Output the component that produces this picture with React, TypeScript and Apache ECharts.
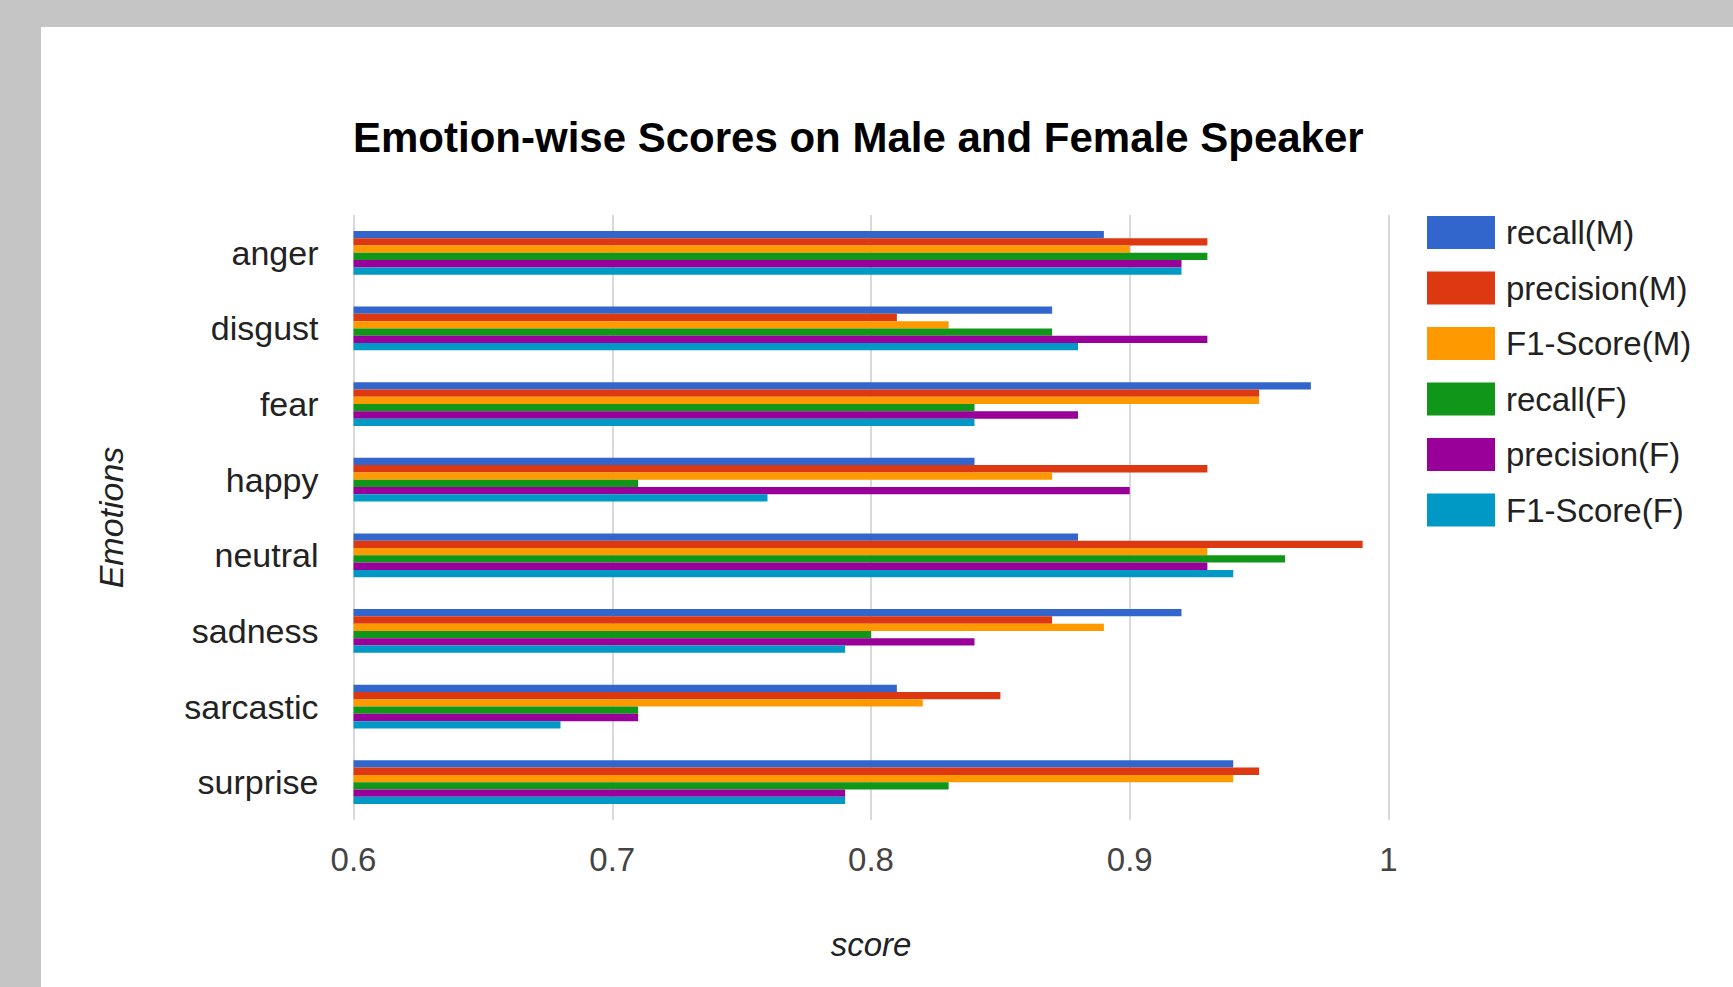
import React, { useEffect, useRef } from "react";
import * as echarts from "echarts";

const categories = ["anger", "disgust", "fear", "happy", "neutral", "sadness", "sarcastic", "surprise"];
const seriesNames = ["recall(M)", "precision(M)", "F1-Score(M)", "recall(F)", "precision(F)", "F1-Score(F)"];
const recallM = [0.89, 0.87, 0.97, 0.84, 0.88, 0.92, 0.81, 0.94];
const precisionM = [0.93, 0.81, 0.95, 0.93, 0.99, 0.87, 0.85, 0.95];
const f1M = [0.90, 0.83, 0.95, 0.87, 0.93, 0.89, 0.82, 0.94];
const recallF = [0.93, 0.87, 0.84, 0.71, 0.96, 0.80, 0.71, 0.83];
const precisionF = [0.92, 0.93, 0.88, 0.90, 0.93, 0.84, 0.71, 0.79];
const f1F = [0.92, 0.88, 0.84, 0.76, 0.94, 0.79, 0.68, 0.79];
const colors = ["#3366cc", "#dc3912", "#ff9900", "#109618", "#990099", "#0099c6"];

const FONT = "'Liberation Sans', Arial, sans-serif";

export default function App() {
  const ref = useRef<HTMLDivElement>(null);
  useEffect(() => {
    document.body.style.margin = "0";
    const chart = echarts.init(ref.current!, null, { renderer: "svg" });
    const values = [recallM, precisionM, f1M, recallF, precisionF, f1F];
    chart.setOption({
      animation: false,
      backgroundColor: "#c4c5c4",
      color: colors,
      textStyle: { fontFamily: FONT },
      graphic: [
        {
          type: "rect",
          z: -10,
          shape: { x: 41, y: 27, width: 1692, height: 960 },
          style: { fill: "#ffffff" },
          silent: true,
        },
      ],
      title: {
        text: "Emotion-wise Scores on Male and Female Speaker",
        left: 348,
        top: 111,
        textStyle: { fontSize: 42, fontWeight: "bold", color: "#000", fontFamily: FONT },
      },
      legend: {
        orient: "vertical",
        left: 1422,
        top: 211,
        itemWidth: 68,
        itemHeight: 33,
        itemGap: 22.5,
        icon: "rect",
        data: seriesNames,
        textStyle: { fontSize: 33, color: "#222", fontFamily: FONT, padding: [0, 0, 0, 6] },
      },
      grid: { left: 353.5, right: 344.5, top: 215, bottom: 167, containLabel: false },
      xAxis: {
        type: "value",
        min: 0.6,
        max: 1.0,
        interval: 0.1,
        name: "score",
        nameLocation: "middle",
        nameGap: 108,
        nameTextStyle: { fontSize: 33, fontStyle: "italic", color: "#222", fontFamily: FONT, verticalAlign: "top" },
        axisLine: { show: false },
        axisTick: { show: false },
        axisLabel: {
          fontSize: 33,
          color: "#444",
          margin: 23,
          fontFamily: FONT,
          formatter: (v: number) => String(+v.toFixed(1)),
        },
        splitLine: { show: true, lineStyle: { color: "#cccccc", width: 1.5 } },
      },
      yAxis: {
        type: "category",
        inverse: true,
        data: categories,
        name: "Emotions",
        nameLocation: "middle",
        nameGap: 226,
        nameRotate: 90,
        nameTextStyle: { fontSize: 34, fontStyle: "italic", color: "#222", fontFamily: FONT },
        axisLine: { show: false },
        axisTick: { show: false },
        axisLabel: { fontSize: 34, color: "#222", margin: 35, fontFamily: FONT },
        splitLine: { show: false },
      },
      series: seriesNames.map((name, i) => ({
        name,
        type: "bar",
        data: values[i],
        barWidth: 7.3,
        barGap: "0%",
        itemStyle: { color: colors[i] },
      })),
    });
    return () => chart.dispose();
  }, []);
  return <div ref={ref} style={{ width: 1733, height: 987 }} />;
}
